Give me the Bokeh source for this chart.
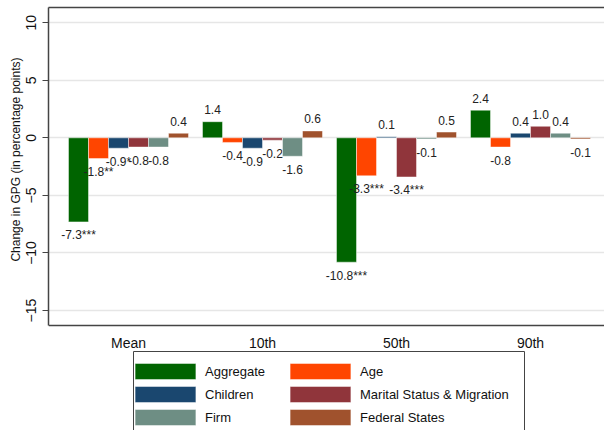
from bokeh.plotting import figure
from bokeh.models import (ColumnDataSource, Legend, LegendItem, FixedTicker,
                          LinearAxis, Range1d, Span, Title)
from bokeh.embed import file_html
from bokeh.resources import INLINE
from bokeh.core.properties import value

groups = ["Mean", "10th", "50th", "90th"]
series = ["Aggregate", "Age", "Children", "Marital Status & Migration",
          "Firm", "Federal States"]
colors = ["#006400", "#ff4500", "#1a476f", "#90353b", "#6e8e84", "#a0522d"]

aggregate = [-7.3, 1.4, -10.8, 2.4]
age = [-1.8, -0.4, -3.3, -0.8]
children = [-0.9, -0.9, 0.1, 0.4]
marital = [-0.8, -0.2, -3.4, 1.0]
firm = [-0.8, -1.6, -0.1, 0.4]
federal = [0.4, 0.6, 0.5, -0.1]

stars_aggregate = ["***", "", "***", ""]
stars_age = ["**", "", "***", ""]
stars_children = ["*", "", "", ""]
stars_marital = ["", "", "***", ""]
stars_firm = ["", "", "", ""]
stars_federal = ["", "", "", ""]

yticks = [-15, -10, -5, 0, 5, 10]
y_axis_min, y_axis_max = -16.3, 11.32
y_title = "Change in GPG (in percentage points)"

values = [aggregate, age, children, marital, firm, federal]
stars = [stars_aggregate, stars_age, stars_children, stars_marital,
         stars_firm, stars_federal]

FONT = "Liberation Sans"
bw = 20 / 134.0                      # bar width in category units
PX_X = 134.0                         # pixels per category unit
PX_Y = 318.0 / (y_axis_max - y_axis_min)   # pixels per y unit
x0 = -80 / PX_X
x1 = x0 + 556 / PX_X
y1 = y_axis_max
y0 = y1 - 423 / PX_Y                 # frame extends under the legend

p = figure(width=604, height=430, output_backend="svg", toolbar_location=None,
           x_range=Range1d(x0, x1), y_range=Range1d(y0, y1),
           x_axis_type=None,
           min_border_left=48, min_border_right=0, min_border_top=7,
           min_border_bottom=0)
p.outline_line_color = None
p.background_fill_color = "white"
p.border_fill_color = "white"

p.ygrid.ticker = FixedTicker(ticks=yticks)
p.ygrid.grid_line_color = "#e6e6e6"
p.ygrid.grid_line_width = 1.5

renderers = {}
for k, (name, vals, col, st) in enumerate(zip(series, values, colors, stars)):
    xs = [g + (k - 2.5) * bw for g in range(len(groups))]
    src = ColumnDataSource(dict(
        x=xs, top=vals,
        label=[f"{v:.1f}{s}" for v, s in zip(vals, st)],
        yoff=[-12 if v >= 0 else 13.5 for v in vals]))
    renderers[name] = p.vbar(x="x", top="top", bottom=0, width=bw, source=src,
                             fill_color=col, line_color="white",
                             line_alpha=0.45, line_width=1)
    p.text(x="x", y="top", text="label", source=src, y_offset="yoff",
           text_align="center", text_baseline="middle",
           text_font=value(FONT), text_font_size="12px", text_color="#222222")

# bottom axis: line + category labels
p.add_layout(Span(location=y_axis_min, dimension="width",
                  line_color="#444444", line_width=1.5))
p.text(x=list(range(len(groups))), y=[y_axis_min] * len(groups), text=groups,
       y_offset=17, text_align="center", text_baseline="middle",
       text_font=value(FONT), text_font_size="14px", text_color="#111111")

# left axis
p.yaxis.bounds = (y_axis_min, y_axis_max)
p.yaxis.ticker = FixedTicker(ticks=yticks)
p.yaxis.major_label_orientation = "parallel"
p.yaxis.minor_tick_line_color = None
p.yaxis.major_tick_out = 6
p.yaxis.major_tick_in = 0
p.yaxis.major_tick_line_color = "#444444"
p.yaxis.major_label_text_font = FONT
p.yaxis.major_label_text_font_size = "14px"
p.yaxis.major_label_text_color = "#111111"
p.yaxis.major_label_standoff = 6
p.yaxis.axis_line_color = "#444444"
p.yaxis.axis_line_width = 1.5

# axis title, centred on the axis span (not the whole frame)
ytitle = Title(text=y_title, align="right", offset=50, standoff=2,
               text_font=FONT, text_font_style="normal", text_font_size="12px",
               text_color="#111111")
p.add_layout(ytitle, "left")

top_axis = LinearAxis(ticker=FixedTicker(ticks=[]), axis_line_color="#444444",
                      axis_line_width=1.5, major_tick_line_color=None,
                      minor_tick_line_color=None, major_tick_out=0,
                      major_tick_in=0, major_label_text_font_size="0px")
p.add_layout(top_axis, "above")


# legend frame (layout decoration, placed in pixels below the axis)
def px_x(px):
    return x0 + (px - 48) / PX_X


def px_y(py):
    return y1 - (py - 7) / PX_Y


p.quad(left=[px_x(133)], right=[px_x(524)], top=[px_y(351)], bottom=[px_y(445)],
       fill_color="white", line_color="#444444", line_width=1)


def make_legend(names, x):
    lg = Legend(items=[LegendItem(label=n, renderers=[renderers[n]]) for n in names],
                orientation="vertical", location=(x, 3))
    lg.border_line_color = None
    lg.background_fill_alpha = 0
    lg.label_text_font = FONT
    lg.label_text_font_size = "13px"
    lg.label_text_color = "#111111"
    lg.glyph_width = 76
    lg.glyph_height = 20
    lg.label_height = 20
    lg.label_standoff = 2
    lg.padding = 5
    lg.spacing = 3
    lg.margin = 0
    return lg


p.add_layout(make_legend([series[0], series[2], series[4]], 79), "center")
p.add_layout(make_legend([series[1], series[3], series[5]], 234), "center")

open("out.html", "w").write(file_html(p, INLINE))
